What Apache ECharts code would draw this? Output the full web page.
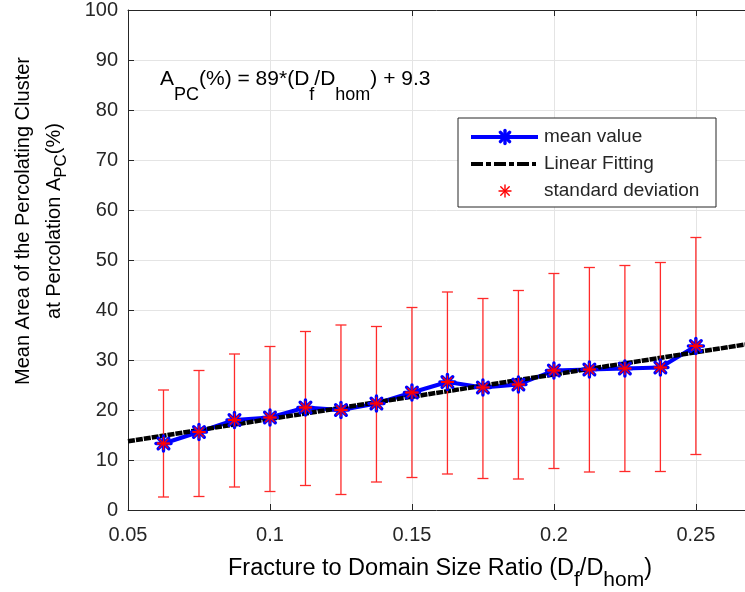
<!DOCTYPE html>
<html><head><meta charset="utf-8">
<script src="https://cdn.jsdelivr.net/npm/echarts@6/dist/echarts.min.js"></script>
<style>html,body{margin:0;padding:0;background:#fff}#c{width:745px;height:592px}</style>
</head><body><div id="c"></div>
<script>
// ---- data ----
const ratios     = [0.0625, 0.075, 0.0875, 0.1, 0.1125, 0.125, 0.1375, 0.15, 0.1625, 0.175, 0.1875, 0.2, 0.2125, 0.225, 0.2375, 0.25];
const meanValues = [13.3, 15.6, 18.0, 18.5, 20.5, 20.0, 21.3, 23.5, 25.6, 24.5, 25.1, 27.9, 28.1, 28.3, 28.5, 32.8];
const stdUpper   = [24.0, 27.9, 31.2, 32.7, 35.7, 37.0, 36.7, 40.5, 43.6, 42.3, 43.9, 47.3, 48.5, 48.9, 49.5, 54.5];
const stdLower   = [2.6, 2.7, 4.6, 3.7, 4.9, 3.1, 5.6, 6.5, 7.2, 6.3, 6.2, 8.3, 7.6, 7.7, 7.7, 11.1];
const fitSlope = 89, fitIntercept = 9.3;
const xTicks = [0.05, 0.1, 0.15, 0.2, 0.25];
const xTickLabels = ['0.05', '0.1', '0.15', '0.2', '0.25'];
const yTicks = [0, 10, 20, 30, 40, 50, 60, 70, 80, 90, 100];
const xMax = 0.2673;
const fitX = [xTicks[0], xMax];

const TXT = '#262626';
const FONT = 'Liberation Sans, Arial, Helvetica, sans-serif';
const chart = echarts.init(document.getElementById('c'), null, {renderer: 'canvas'});

function asteriskChildren(cx, cy, r, color, lw, z) {
  const d = r * Math.SQRT1_2;
  const segs = [[0, -r, 0, r], [-r, 0, r, 0], [-d, -d, d, d], [-d, d, d, -d]];
  return segs.map(s => {
    const el = {type: 'line', shape: {x1: cx + s[0], y1: cy + s[1], x2: cx + s[2], y2: cy + s[3]},
      style: {stroke: color, lineWidth: lw, lineCap: 'round'}};
    if (z != null) el.z = z;
    return el;
  });
}

function richBase(fs, L, sfs, s) {
  return {
    n: {fontSize: fs, fontFamily: FONT, color: TXT, lineHeight: L},
    s: {fontSize: sfs, fontFamily: FONT, color: TXT, lineHeight: s, verticalAlign: 'bottom'}
  };
}

const meanPts = ratios.map((x, i) => [x, meanValues[i]]);

const option = {
  animation: false,
  backgroundColor: '#fff',
  grid: {left: 128, right: 0, top: 10, bottom: 82},
  xAxis: [{
    type: 'value', min: xTicks[0], max: xMax, interval: xTicks[1] - xTicks[0],
    axisLine: {show: true, lineStyle: {color: TXT, width: 1}},
    axisTick: {show: true, inside: true, length: 6, lineStyle: {color: TXT}},
    axisLabel: {show: true, showMaxLabel: false, margin: 15, color: TXT, fontSize: 20, fontFamily: FONT,
      formatter: v => { const k = xTicks.findIndex(t => Math.abs(t - v) < 1e-9); return k >= 0 ? xTickLabels[k] : ''; }},
    splitLine: {show: true, lineStyle: {color: '#e4e4e4', width: 1}}
  }, {
    type: 'value', position: 'top', min: xTicks[0], max: xMax, interval: xTicks[1] - xTicks[0],
    axisLine: {show: true, lineStyle: {color: TXT, width: 1}},
    axisTick: {show: true, inside: true, length: 6, lineStyle: {color: TXT}},
    axisLabel: {show: false}, splitLine: {show: false}
  }],
  yAxis: {
    type: 'value', min: yTicks[0], max: yTicks[yTicks.length - 1], interval: yTicks[1] - yTicks[0],
    axisLine: {show: true, lineStyle: {color: TXT, width: 1}},
    axisTick: {show: true, inside: true, length: 6, lineStyle: {color: TXT}},
    axisLabel: {margin: 10, color: TXT, fontSize: 20, fontFamily: FONT},
    splitLine: {show: true, lineStyle: {color: '#e4e4e4', width: 1}}
  },
  series: [
    {name: 'mean value', type: 'line', data: meanPts, symbol: 'none', z: 2,
      lineStyle: {color: '#0000ff', width: 4}},
    {name: 'Linear Fitting', type: 'line', data: fitX.map(x => [x, fitSlope * x + fitIntercept]), symbol: 'none', z: 3,
      lineStyle: {color: '#000', width: 4.5, type: [7, 1]}},
    {name: 'errorbar', type: 'custom', z: 4, clip: false,
      data: ratios.map((x, i) => [x, stdLower[i], stdUpper[i]]),
      encode: {x: 0, y: [1, 2]},
      renderItem(params, api) {
        const x = api.value(0);
        const pLo = api.coord([x, api.value(1)]);
        const pHi = api.coord([x, api.value(2)]);
        const w = 5.5, st = {stroke: '#ff2a2a', lineWidth: 1.3};
        return {type: 'group', children: [
          {type: 'line', shape: {x1: pLo[0], y1: pLo[1], x2: pHi[0], y2: pHi[1]}, style: st},
          {type: 'line', shape: {x1: pLo[0] - w, y1: pLo[1], x2: pLo[0] + w, y2: pLo[1]}, style: st},
          {type: 'line', shape: {x1: pHi[0] - w, y1: pHi[1], x2: pHi[0] + w, y2: pHi[1]}, style: st}
        ]};
      }},
    {name: 'markers', type: 'custom', z: 5, clip: false, data: meanPts,
      renderItem(params, api) {
        const p = api.coord([api.value(0), api.value(1)]);
        return {type: 'group', children: asteriskChildren(p[0], p[1], 7.5, '#0000ff', 3.4)
          .concat(asteriskChildren(p[0], p[1], 6, '#ff0000', 1.3))
          .concat([{type: 'line', shape: {x1: p[0] - 6.5, y1: p[1], x2: p[0] + 6.5, y2: p[1]}, style: {stroke: '#ff0000', lineWidth: 2}}])};
      }}
  ],
  graphic: [
    // equation annotation
    {type: 'text', x: 160, y: 79.5, z: 10, style: {
      text: '{n|A}{s|PC}{n|(%) = 89*(D}{s|f}{n|/D}{s|hom}{n|) + 9.3}',
      rich: richBase(21, 50, 18, 16), verticalAlign: 'middle', align: 'left'}},
    // y axis title
    {type: 'text', x: 38.5, y: 221, rotation: Math.PI / 2, z: 10, style: {
      text: '{n|Mean Area of the Percolating Cluster}\n{n|at Percolation A}{s|PC}{n|(%)}',
      rich: richBase(20, 31, 17, 5), align: 'center', verticalAlign: 'middle'}},
    // x axis title
    {type: 'text', x: 440, y: 568.5, z: 10, style: {
      text: '{n|Fracture to Domain Size Ratio (D}{s|f}{n|/D}{s|hom}{n|)}',
      rich: richBase(23.5, 44, 21, 16), align: 'center', verticalAlign: 'middle'}},
    // legend
    {type: 'rect', z: 20, shape: {x: 458, y: 118, width: 258, height: 89},
      style: {fill: '#fff', stroke: TXT, lineWidth: 1}},
    {type: 'line', z: 21, shape: {x1: 471, y1: 137, x2: 538, y2: 137}, style: {stroke: '#0000ff', lineWidth: 4}},
    {type: 'group', children: asteriskChildren(505, 137, 6.5, '#0000ff', 3.4, 22)},
    {type: 'line', z: 21, shape: {x1: 471, y1: 164, x2: 536, y2: 164}, style: {stroke: '#000', lineWidth: 4, lineDash: [12, 3, 5, 3]}},
    {type: 'group', children: asteriskChildren(505, 191, 6, '#ff0000', 1.4, 22)},
    {type: 'text', z: 22, x: 544, y: 137, style: {text: 'mean value', fill: TXT, fontSize: 19, fontFamily: FONT, verticalAlign: 'middle'}},
    {type: 'text', z: 22, x: 544, y: 164, style: {text: 'Linear Fitting', fill: TXT, fontSize: 19, fontFamily: FONT, verticalAlign: 'middle'}},
    {type: 'text', z: 22, x: 544, y: 191, style: {text: 'standard deviation', fill: TXT, fontSize: 19, fontFamily: FONT, verticalAlign: 'middle'}}
  ]
};
chart.setOption(option);
</script>
</body></html>
